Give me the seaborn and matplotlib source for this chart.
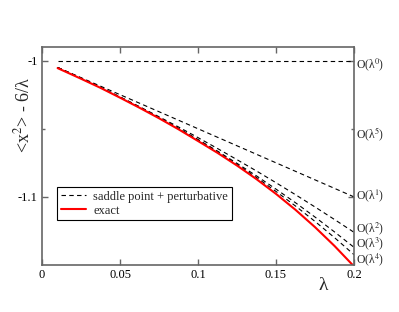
import matplotlib
matplotlib.use("Agg")
import matplotlib.pyplot as plt
import matplotlib.transforms as mtransforms
from matplotlib.ticker import FixedLocator, FixedFormatter
import pandas as pd
import seaborn as sns

# valores
lam = [0.01, 0.025, 0.0375, 0.05, 0.0625, 0.075, 0.0875, 0.1,
       0.1125, 0.125, 0.1375, 0.15, 0.1625, 0.175, 0.1875, 0.2]
ordem0 = [-1.0] * 16
ordem1 = [-1.005, -1.0125, -1.01875, -1.025, -1.03125, -1.0375, -1.04375, -1.05,
          -1.05625, -1.0625, -1.06875, -1.075, -1.08125, -1.0875, -1.09375, -1.1]
ordem2 = [-1.0051, -1.0129, -1.0197, -1.0266, -1.0338, -1.0412, -1.0487, -1.0565,
          -1.0645, -1.0727, -1.0810, -1.0896, -1.0984, -1.1074, -1.1166, -1.126]
ordem3 = [-1.0051, -1.0129, -1.0197, -1.0268, -1.0341, -1.0418, -1.0497, -1.0579,
          -1.0664, -1.0754, -1.0846, -1.0943, -1.1043, -1.1148, -1.1257, -1.137]
ordem4 = [-1.0051, -1.0129, -1.0197, -1.0268, -1.0342, -1.0419, -1.0499, -1.0582,
          -1.0670, -1.0762, -1.0858, -1.0960, -1.1067, -1.1180, -1.1299, -1.1424]
exato = [-1.0055, -1.0133, -1.0200, -1.0272, -1.0346, -1.0423, -1.0504, -1.0590,
         -1.0677, -1.0770, -1.0870, -1.0978, -1.1095, -1.1222, -1.1360, -1.1510]

rotulos_dir = ["O(λ$^0$)", "O(λ$^5$)", "O(λ$^1$)",
               "O(λ$^2$)", "O(λ$^3$)", "O(λ$^4$)"]
pos_rotulos = [-1.003, -1.054, -1.099, -1.1235, -1.1342, -1.1462]

xticks = [0, 0.05, 0.1, 0.15, 0.2]
xtick_labels = ["0", "0.05", "0.1", "0.15", "0.2"]
yticks = [-1.0, -1.1]
ytick_labels = ["-1", "-1.1"]

sns.set_style("ticks")
plt.rcParams["font.family"] = ["Liberation Serif", "DejaVu Serif"]
plt.rcParams["mathtext.fontset"] = "stix"
plt.rcParams["axes.unicode_minus"] = False

CINZA = "#666666"

fig = plt.figure(figsize=(3.99, 3.12), dpi=100)
ax = fig.add_axes([0.1053, 0.1506, 0.7819, 0.6988])

tracos = (0, (4, 3))
series = [ordem0, ordem1, ordem2, ordem3, ordem4]
for i, s in enumerate(series):
    df = pd.DataFrame({"lam": lam, "v": s})
    sns.lineplot(data=df, x="lam", y="v", ax=ax, color="black", lw=0.8,
                 linestyle=tracos,
                 label="saddle point + perturbative" if i == 0 else None)
df_ex = pd.DataFrame({"lam": lam, "v": exato})
sns.lineplot(data=df_ex, x="lam", y="v", ax=ax, color="red", lw=1.5,
             label="exact")

ax.set_xlim(0, 0.2)
ax.set_ylim(-1.15, -0.99)
ax.set_xlabel("")
ax.set_ylabel("")

ax.xaxis.set_major_locator(FixedLocator(xticks))
ax.xaxis.set_major_formatter(FixedFormatter(xtick_labels))
ax.yaxis.set_major_locator(FixedLocator(yticks))
ax.yaxis.set_major_formatter(FixedFormatter(ytick_labels))
ax.yaxis.set_minor_locator(FixedLocator([-1.05]))

ax.tick_params(which="both", direction="in", top=True, right=True,
               color=CINZA, width=1.0, labelsize=9, labelcolor="black")
ax.tick_params(which="major", length=4.5, pad=3)
ax.tick_params(which="minor", length=2.2)
for sp in ax.spines.values():
    sp.set_color(CINZA)
    sp.set_linewidth(1.2)

# rótulos da direita
trans = mtransforms.blended_transform_factory(ax.transAxes, ax.transData)
for txt, y in zip(rotulos_dir, pos_rotulos):
    ax.text(1.008, y, txt, transform=trans, ha="left", va="center",
            fontsize=8.5)

fig.text(23 / 399, 1 - 115 / 312, "<x$^2$> - 6/λ", rotation=90,
         ha="center", va="center", fontsize=13)
fig.text(323 / 399, 1 - 286 / 312, "λ", ha="center", va="center",
         fontsize=14)

leg = ax.legend(loc="upper left", bbox_to_anchor=(57 / 399, 1 - 187 / 312),
                bbox_transform=fig.transFigure, borderaxespad=0,
                fontsize=9, frameon=True, fancybox=False, framealpha=1,
                handlelength=2.0, handletextpad=0.6, borderpad=0.3,
                labelspacing=0.15)
leg.get_frame().set_edgecolor("black")
leg.get_frame().set_linewidth(0.8)

fig.savefig("out.png", dpi=100, facecolor="white")
